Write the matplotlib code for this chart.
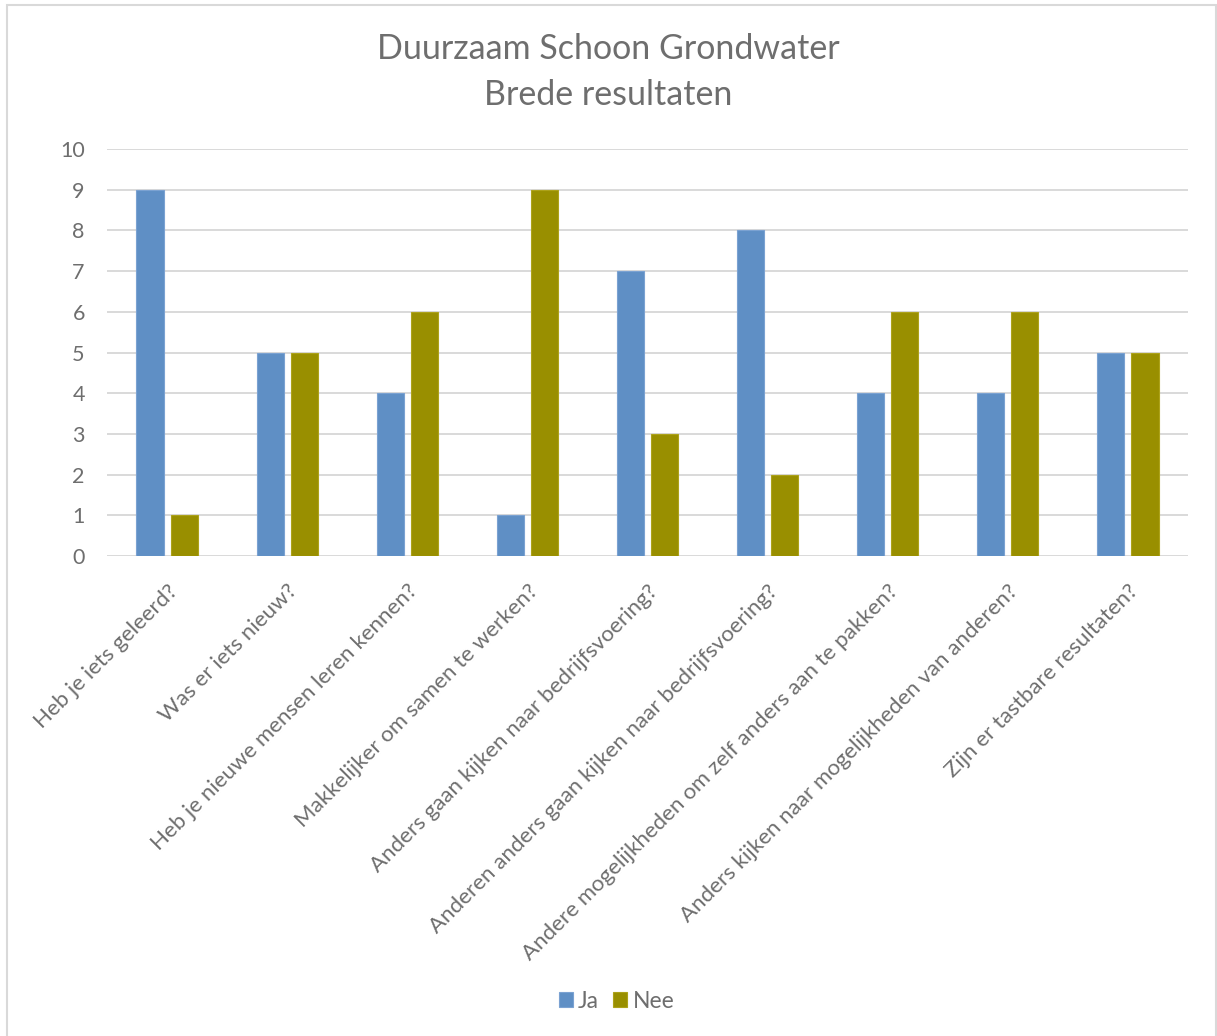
import matplotlib
matplotlib.use('Agg')
import matplotlib.pyplot as plt
import numpy as np
from matplotlib.patches import Rectangle

plt.rcParams['font.family'] = ['Lato', 'DejaVu Sans']

# chart data
questions = ['Heb je iets geleerd?', 'Was er iets nieuw?', 'Heb je nieuwe mensen leren kennen?',
             'Makkelijker om samen te werken?', 'Anders gaan kijken naar bedrijfsvoering?',
             'Anderen anders gaan kijken naar bedrijfsvoering?',
             'Andere mogelijkheden om zelf anders aan te pakken?',
             'Anders kijken naar mogelijkheden van anderen?', 'Zijn er tastbare resultaten?']
ja = [9, 5, 4, 1, 7, 8, 4, 4, 5]
nee = [1, 5, 6, 9, 3, 2, 6, 6, 5]
y_ticks = list(range(0, 11))

text_grey = '#6E6E6E'
grid_grey = '#D9D9D9'

W, H = 1217, 1036
fig = plt.figure(figsize=(W / 100, H / 100), dpi=100)
ax = fig.add_axes([107 / W, 1 - 556 / H, (1188 - 107) / W, (556 - 149) / H])

x = np.arange(len(questions))
bw = 0.225
ax.bar(x - 0.142, ja, bw, color='#5F8FC5', edgecolor='#7BA2D2', linewidth=0.8, label='Ja', zorder=3)
ax.bar(x + 0.142, nee, bw, color='#998F00', edgecolor='#ADA21A', linewidth=0.8, label='Nee', zorder=3)

ax.set_xlim(-0.5, len(questions) - 0.5)
ax.set_ylim(0, 10)
ax.set_yticks(y_ticks)
ax.yaxis.grid(True, color=grid_grey, linewidth=1.4, zorder=0)
ax.set_axisbelow(True)
for s in ax.spines.values():
    s.set_visible(False)
ax.tick_params(axis='y', length=0, pad=16, labelsize=15.5, labelcolor=text_grey)
ax.tick_params(axis='x', length=0, pad=18, labelsize=16, labelcolor=text_grey)
ax.set_xticks(x)
ax.set_xticklabels(questions, rotation=45, ha='right', va='top', rotation_mode='anchor')

fig.text(0.5, 1 - 49 / H, 'Duurzaam Schoon Grondwater', ha='center', va='center',
         fontsize=24.5, color=text_grey)
fig.text(0.5, 1 - 95 / H, 'Brede resultaten', ha='center', va='center',
         fontsize=24.5, color=text_grey)

fig.legend(loc='center', bbox_to_anchor=(616.5 / W, 1 - 1001 / H), ncol=2, frameon=False,
           fontsize=16.5, labelcolor=text_grey, handlelength=0.6, handleheight=0.6,
           handletextpad=0.25, columnspacing=0.6)

# chart border
fig.patches.append(Rectangle((7 / W, -0.01), (1216 - 7) / W, (1036 - 5) / H + 0.01,
                             transform=fig.transFigure, fill=False,
                             edgecolor=grid_grey, linewidth=1.5))

fig.savefig('out.png', dpi=100)
